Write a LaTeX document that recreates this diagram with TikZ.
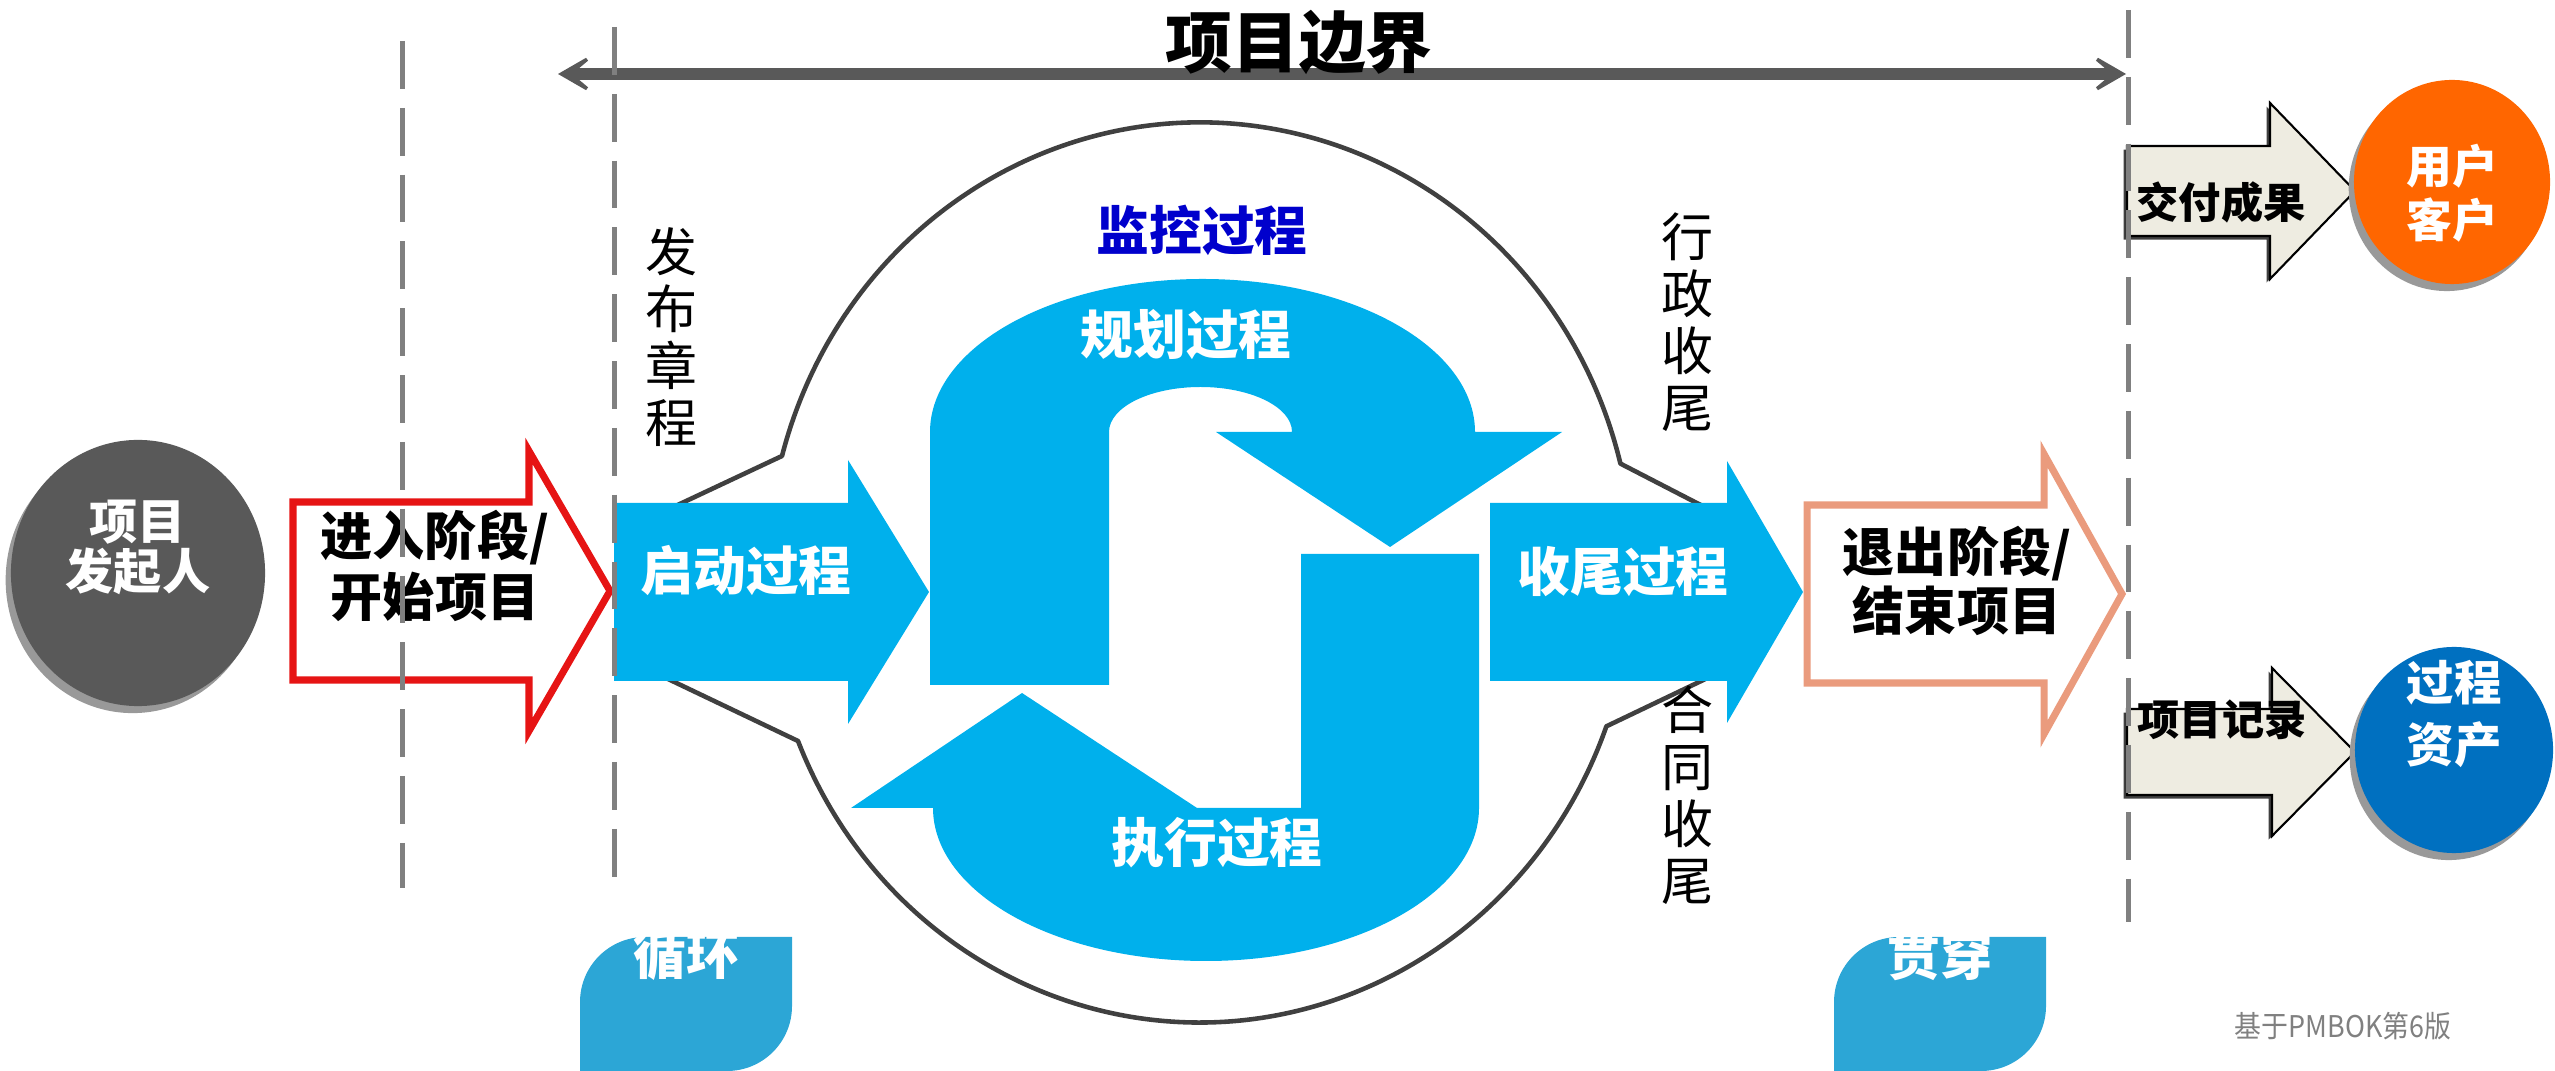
\documentclass[tikz,border=0pt]{standalone}
\usepackage{fontspec}
\usepackage{graphicx}
\setmainfont{Noto Sans CJK SC}
\usetikzlibrary{arrows.meta,shapes.geometric,shadows,calc}

\definecolor{cyanproc}{RGB}{0,176,236}
\definecolor{onglet}{RGB}{44,166,214}
\definecolor{gristrait}{RGB}{128,128,128}
\definecolor{grisfonce}{RGB}{89,89,89}
\definecolor{rim}{RGB}{64,64,64}
\definecolor{rouge}{RGB}{230,20,20}
\definecolor{saumon}{RGB}{234,155,125}
\definecolor{creme}{RGB}{238,236,225}
\definecolor{orangeclient}{RGB}{255,102,0}
\definecolor{bleuactif}{RGB}{0,112,192}
\definecolor{bleusuivi}{RGB}{0,0,204}

\newcommand{\taille}[2]{\fontsize{#1}{#2}\selectfont}
\newcommand{\bloc}[7]{%
  \path[#1] (#2,#5-#6) -- (#3,#5-#6) -- (#3,#5-#7) -- (#4,#5) -- (#3,#5+#7) -- (#3,#5+#6) -- (#2,#5+#6) -- cycle;}

\begin{document}
\begin{tikzpicture}[x=0.01cm, y=-0.01cm]
        \tikzstyle{pointille}=[draw=gristrait, line width=1.42pt, dash pattern=on 13.6pt off 5.4pt];
        \tikzstyle{bande}=[fill=cyanproc];
        \tikzstyle{contour}=[draw=rim, line width=1.3pt, line join=round];
        \tikzstyle{bulle}=[ellipse, inner sep=0, drop shadow={shadow xshift=-1.5pt, shadow yshift=-2pt, fill=black!40, opacity=1}];
        \tikzstyle{sortie}=[fill=creme, draw=black, line width=0.6pt, drop shadow={shadow xshift=-1pt, shadow yshift=-1pt, fill=black!75, opacity=1}];
        \tikzstyle{texte}=[inner sep=0, align=center];
        \tikzstyle{etiquette}=[texte, white, font=\taille{15pt}{18pt}\bfseries];
        \tikzstyle{verticale}=[texte, font=\taille{14.8pt}{16.2pt}];

        \useasboundingbox (0,0) rectangle (2555,1071);

        \foreach \x/\nom/\mot in {580/boucle/循环, 1834/traverse/贯穿}{
          \fill[onglet] (\x,1071) -- (\x,1002) arc[start angle=180, end angle=270, radius=65]
            -- (\x+212,937) -- (\x+212,1006) arc[start angle=0, end angle=90, radius=65] -- cycle;
          \node[etiquette] (\nom) at (\x+106,955) {\mot};
        }

        \draw[contour] (650,518) -- (782,456) arc[start angle=195, end angle=346, x radius=433, y radius=450] -- (1720,515);
        \draw[contour] (645,668) -- (798,741) arc[start angle=158, end angle=20, x radius=433, y radius=450] -- (1720,672);

        \fill[bande] (930,685) -- (930,432) arc[start angle=180, end angle=360, x radius=272.5, y radius=153]
          -- (1562,432) -- (1390,547) -- (1216,432) -- (1292,432)
          arc[start angle=0, end angle=-180, x radius=91.5, y radius=45] -- (1109,685) -- cycle;
        \fill[bande] (1301,554) -- (1479,554) -- (1479,808) arc[start angle=0, end angle=180, x radius=273, y radius=153]
          -- (851,808) -- (1022,693) -- (1197,808) -- (1301,808) -- cycle;

        \bloc{fill=white, draw=rouge, line width=2pt}{293}{529}{610}{591}{89}{140}
        \bloc{bande}{614}{848}{929}{592}{89}{132}
        \bloc{bande}{1490}{1727}{1803}{592}{89}{131}
        \bloc{fill=white, draw=saumon, line width=2pt}{1807}{2044}{2122}{594}{89}{140}
        \bloc{sortie}{2127}{2270}{2355}{191}{45}{88}
        \bloc{sortie}{2127}{2272}{2355}{752}{43}{84}

        \node[bulle, fill=grisfonce, minimum width=2.54cm, minimum height=2.66cm] (sponsor) at (138,573) {};
        \node[bulle, fill=orangeclient, minimum width=1.96cm, minimum height=2.04cm] (client) at (2452,182) {};
        \node[bulle, fill=bleuactif, minimum width=1.98cm, minimum height=2.06cm] (actif) at (2454,750) {};

        \coordinate (gauche) at (558,74);
        \coordinate (droite) at (2126,74);
        \draw[grisfonce, line width=3.4pt, {Stealth[length=13pt,width=15pt,inset=9pt]}-{Stealth[length=13pt,width=15pt,inset=9pt]}] (gauche) -- (droite);
        \node[texte, font=\taille{19pt}{21pt}\bfseries] (titre) at (1299,42) {项目边界};

        \node[texte, white, font=\taille{13.7pt}{14.2pt}\bfseries] (sponsorTxt) at ($(sponsor)+(0,-26)$) {项目\\发起人};
        \node[texte, white, font=\taille{13pt}{15.4pt}\bfseries] (clientTxt) at ($(client)+(0,11)$) {用户\\客户};
        \node[texte, white, font=\taille{13.5pt}{17.6pt}\bfseries] (actifTxt) at ($(actif)+(0,-36)$) {过程\\资产};
        \node[texte, font=\taille{14.8pt}{17.4pt}\bfseries] (entree) at (435,566) {进入阶段/\\开始项目};
        \node[texte, font=\taille{14.8pt}{17pt}\bfseries] (sortieTxt) at (1957,581) {退出阶段/\\结束项目};
        \node[etiquette] (lancement) at (746,571) {启动过程};
        \node[etiquette] (cloture) at (1623,572) {收尾过程};
        \node[etiquette] (planif) at (1186,335) {规划过程};
        \node[etiquette] (execution) at (1217,843) {执行过程};
        \node[texte, text=bleusuivi, font=\taille{15pt}{18pt}\bfseries] (suivi) at (1202,230) {监控过程};
        \node[verticale] (charte) at (672,337) {发\\布\\章\\程};
        \node[verticale] (admin) at (1687,322) {行\\政\\收\\尾};
        \node[verticale] (contrat) at (1687,795) {合\\同\\收\\尾};
        \node[texte, font=\taille{12pt}{14pt}\bfseries] (livrable) at (2221,202) {交付成果};
        \node[texte, font=\taille{12pt}{14pt}\bfseries] (archive) at (2222,720) {项目记录};
        \node[texte, text=gristrait, font=\taille{8.5pt}{10pt}] (source) at (2343,1026) {\scalebox{0.9}[1]{基于PMBOK第6版}};

        \foreach \i/\x/\haut/\bas in {1/402/41/888, 2/614/27/893, 3/2128/10/922}{
          \coordinate (H\i) at (\x,\haut);
          \coordinate (B\i) at (\x,\bas);
          \draw[pointille] (H\i) -- (B\i);
        }
    \end{tikzpicture}
\end{document}
